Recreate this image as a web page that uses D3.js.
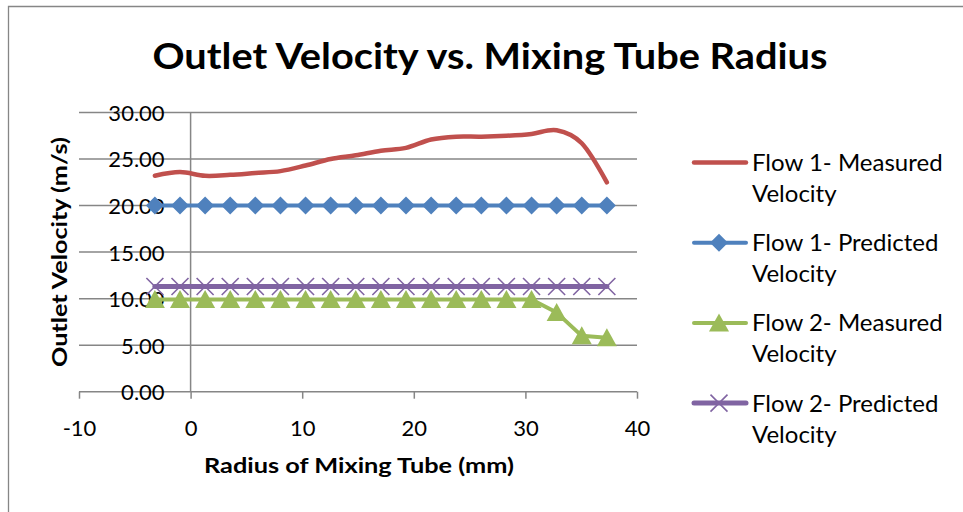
<!DOCTYPE html>
<html lang="en">
    <head>
        <meta charset="utf-8">
        <title>Outlet Velocity vs. Mixing Tube Radius</title>
        <script src="https://cdn.jsdelivr.net/npm/d3@7"></script>
        <style type="text/css">
            body { margin: 0; background: #fff; }
            text { font-family: Lato, "Open Sans", sans-serif; fill: #000; }
            .axis-title { font-size: 20px; font-weight: bold; }
            .legend text { font-size: 24px; }
        </style>
    </head>
    <body>
        <script type="text/javascript">

            // radius of mixing tube (mm)
            var radius = [-3.2, -0.95, 1.3, 3.55, 5.8, 8.05, 10.3, 12.55, 14.8, 17.05,
                          19.3, 21.55, 23.8, 26.05, 28.3, 30.55, 32.8, 35.05, 37.3];
            var flow1Measured = [23.2, 23.6, 23.2, 23.3, 23.5, 23.7, 24.3, 25.0, 25.4, 25.9,
                                 26.2, 27.1, 27.4, 27.4, 27.5, 27.7, 28.1, 26.7, 22.5];
            var flow1Predicted = [20.0, 20.0, 20.0, 20.0, 20.0, 20.0, 20.0, 20.0, 20.0, 20.0,
                                  20.0, 20.0, 20.0, 20.0, 20.0, 20.0, 20.0, 20.0, 20.0];
            var flow2Measured = [9.9, 9.9, 9.9, 9.9, 9.9, 9.9, 9.9, 9.9, 9.9, 9.9,
                                 9.9, 9.9, 9.9, 9.9, 9.9, 9.9, 8.5, 6.0, 5.8];
            var flow2Predicted = [11.3, 11.3, 11.3, 11.3, 11.3, 11.3, 11.3, 11.3, 11.3, 11.3,
                                  11.3, 11.3, 11.3, 11.3, 11.3, 11.3, 11.3, 11.3, 11.3];

            var xTicks = [-10, 0, 10, 20, 30, 40];
            var yTicks = [0, 5, 10, 15, 20, 25, 30];
            var seriesNames = [["Flow 1- Measured", "Velocity"], ["Flow 1- Predicted", "Velocity"],
                               ["Flow 2- Measured", "Velocity"], ["Flow 2- Predicted", "Velocity"]];

            var w = 963, h = 512;
            var gray = "#868686";

            var series = [
                {values: flow1Measured,  color: "#C0504D", marker: "none",     width: 4.5, smooth: true},
                {values: flow1Predicted, color: "#4F81BD", marker: "diamond",  width: 4,   smooth: false},
                {values: flow2Measured,  color: "#9BBB59", marker: "triangle", width: 4,   smooth: false},
                {values: flow2Predicted, color: "#8064A2", marker: "x",        width: 5,   smooth: false}
            ];

            var svg = d3.select("body")
                .append("svg")
                .attr("width", w)
                .attr("height", h);

            // chart frame
            svg.append("path")
                .attr("d", "M8.5," + h + "V6.5H" + w)
                .attr("fill", "none")
                .attr("stroke", gray)
                .attr("stroke-width", 1.3);

            var xScale = d3.scaleLinear().domain([-10, 40]).range([79, 637]);
            var yScale = d3.scaleLinear().domain([0, 30]).range([391.7, 112.5]);

            // gridlines
            svg.append("g")
                .selectAll("line")
                .data(yTicks.filter(function(d){ return d > 0; }))
                .enter()
                .append("line")
                .attr("x1", xScale(-10))
                .attr("x2", xScale(40))
                .attr("y1", function(d){ return yScale(d); })
                .attr("y2", function(d){ return yScale(d); })
                .attr("stroke", gray)
                .attr("stroke-width", 1.5);

            // x axis along y = 0
            var xAxis = d3.axisBottom(xScale).tickValues(xTicks).tickSize(7)
                .tickFormat(function(d){ return String(d); });
            var gx = svg.append("g")
                .attr("transform", "translate(0," + yScale(0) + ")")
                .call(xAxis);
            gx.select(".domain").attr("stroke", gray).attr("stroke-width", 1.5)
                .attr("d", "M" + xScale(-10) + ",0H" + xScale(40));
            gx.selectAll(".tick line").attr("stroke", gray).attr("stroke-width", 1.5);
            gx.selectAll(".tick text")
                .attr("y", 0).attr("dy", null)
                .attr("transform", "translate(0,44)")
                .style("font-family", "Lato, sans-serif")
                .style("font-size", "22px")
                .attr("fill", "#000");

            // y axis along x = 0
            var yAxis = d3.axisLeft(yScale).tickValues(yTicks).tickSize(0).tickPadding(26).tickFormat(d3.format(".2f"));
            var gy = svg.append("g")
                .attr("transform", "translate(" + xScale(0) + ",0)")
                .call(yAxis);
            gy.select(".domain").attr("stroke", gray).attr("stroke-width", 1.5)
                .attr("d", "M0," + yScale(30) + "V" + yScale(0));
            gy.selectAll(".tick text")
                .attr("dy", "0.36em")
                .style("font-family", "Lato, sans-serif")
                .style("font-size", "22px")
                .attr("fill", "#000");

            // series
            var markerPath = {
                diamond: "M0,-9L9,0L0,9L-9,0Z",
                triangle: "M0,-9.5L10,8.5L-10,8.5Z",
                x: "M-8.5,-8.5L8.5,8.5M8.5,-8.5L-8.5,8.5"
            };

            series.forEach(function(s) {
                var pts = s.values.map(function(v, i){ return [radius[i], v]; });
                var line = d3.line()
                    .x(function(d){ return xScale(d[0]); })
                    .y(function(d){ return yScale(d[1]); })
                    .curve(s.smooth ? d3.curveCardinal.tension(0) : d3.curveLinear);
                svg.append("path")
                    .datum(pts)
                    .attr("d", line)
                    .attr("fill", "none")
                    .attr("stroke", s.color)
                    .attr("stroke-width", s.width)
                    .attr("stroke-linejoin", "round")
                    .attr("stroke-linecap", "round");
                if (s.marker != "none") {
                    svg.append("g")
                        .selectAll("path")
                        .data(pts)
                        .enter()
                        .append("path")
                        .attr("transform", function(d){ return "translate(" + xScale(d[0]) + "," + yScale(d[1]) + ")"; })
                        .attr("d", markerPath[s.marker])
                        .attr("fill", s.marker == "x" ? "none" : s.color)
                        .attr("stroke", s.marker == "x" ? s.color : "none")
                        .attr("stroke-width", 1.6);
                }
            });

            // titles
            svg.append("text")
                .attr("x", 490)
                .attr("y", 69)
                .attr("text-anchor", "middle")
                .attr("textLength", 675)
                .attr("lengthAdjust", "spacingAndGlyphs")
                .style("font-size", "36px")
                .style("font-weight", "bold")
                .text("Outlet Velocity vs. Mixing Tube Radius");

            svg.append("text")
                .attr("class", "axis-title")
                .attr("x", 359)
                .attr("y", 473)
                .attr("text-anchor", "middle")
                .attr("textLength", 310)
                .attr("lengthAdjust", "spacingAndGlyphs")
                .text("Radius of Mixing Tube (mm)");

            svg.append("text")
                .attr("class", "axis-title")
                .attr("transform", "translate(67,252) rotate(-90)")
                .attr("text-anchor", "middle")
                .attr("textLength", 230)
                .attr("lengthAdjust", "spacingAndGlyphs")
                .text("Outlet Velocity (m/s)");

            // legend
            var legend = svg.append("g").attr("class", "legend");
            series.forEach(function(s, i) {
                var cy = 162.5 + i * 80.2;
                var g = legend.append("g").attr("transform", "translate(0," + cy + ")");
                g.append("line")
                    .attr("x1", 694).attr("x2", 746)
                    .attr("y1", 0).attr("y2", 0)
                    .attr("stroke", s.color)
                    .attr("stroke-width", s.width)
                    .attr("stroke-linecap", "round");
                if (s.marker != "none") {
                    g.append("path")
                        .attr("transform", "translate(719,0)")
                        .attr("d", markerPath[s.marker])
                        .attr("fill", s.marker == "x" ? "none" : s.color)
                        .attr("stroke", s.marker == "x" ? s.color : "none")
                        .attr("stroke-width", 1.6);
                }
                g.append("text")
                    .attr("x", 752).attr("y", 8.5)
                    .text(seriesNames[i][0]);
                g.append("text")
                    .attr("x", 752).attr("y", 39.5)
                    .text(seriesNames[i][1]);
            });

        </script>
    </body>
</html>
